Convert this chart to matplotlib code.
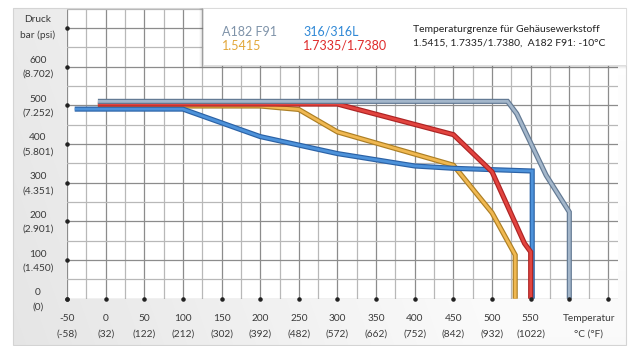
import numpy as np
import matplotlib
matplotlib.use("Agg")
import matplotlib.pyplot as plt
from matplotlib.patches import Rectangle

plt.rcParams['font.family'] = ['Lato', 'DejaVu Sans']

# ---- data ----
a182_t = [-10, 520, 532, 570, 600, 600]
a182_p = [510, 510, 478, 319, 224, 0]

red_t = [-10, 300, 450, 500, 542, 550, 550]
red_p = [503, 503, 424, 328, 143, 121, 0]

orange_t = [-10, 200, 250, 300, 450, 500, 530, 530]
orange_p = [498, 498, 489, 431, 345, 222, 113, 0]

blue_t = [-40, 100, 200, 300, 400, 450, 552, 552]
blue_p = [490, 490, 419, 375, 343, 337, 330, 0]

x_ticks = [-50, 0, 50, 100, 150, 200, 250, 300, 350, 400, 450, 500, 550]
x_ticks_f = ["(-58)", "(32)", "(122)", "(212)", "(302)", "(392)", "(482)",
             "(572)", "(662)", "(752)", "(842)", "(932)", "(1022)"]
y_ticks = [0, 100, 200, 300, 400, 500, 600]
y_ticks_psi = ["(0)", "(1.450)", "(2.901)", "(4.351)", "(5.801)", "(7.252)", "(8.702)"]

W, H = 628, 346
fig = plt.figure(figsize=(W / 100, H / 100), dpi=100)
fig.patch.set_facecolor('white')

# background frame with gradient
bg = fig.add_axes([0, 0, 1, 1], zorder=-5)
bg.set_xlim(0, W)
bg.set_ylim(H, 0)
bg.axis('off')
gx = np.linspace(0, 1, 200)
gy = np.linspace(0, 1, 100)
GX, GY = np.meshgrid(gx, gy)
val = 0.90 + 0.08 * np.clip(GX * 1.3, 0, 1) + 0.02 * (1 - GY)
val = np.clip(val, 0, 1)
img = np.dstack([val, val, val])
bg.imshow(img, extent=(13, 626, 345, 8), aspect='auto', interpolation='bilinear')
bg.add_patch(Rectangle((13, 8), 613, 337, fill=False, ec='#d4d4d4', lw=0.8))

# main axes
x0_px, x1_px = 67, 618
y_top_px, y_bot_px = 8.5, 298.7
ax = fig.add_axes([x0_px / W, 1 - y_bot_px / H, (x1_px - x0_px) / W, (y_bot_px - y_top_px) / H])
ax.set_facecolor('white')
ax.set_xlim(-50, 663)
ax.set_ylim(0, 750)

for xv in np.arange(-50, 663, 25):
    major = (xv % 50 == 0)
    ax.axvline(xv, color='#8c8c8c' if major else '#b8b8b8', lw=0.9, zorder=1)
for yv in np.arange(0, 751, 50):
    major = (yv % 100 == 0)
    ax.axhline(yv, color='#8c8c8c' if major else '#b8b8b8', lw=0.9, zorder=1)

for s in ax.spines.values():
    s.set_visible(False)
ax.set_xticks([])
ax.set_yticks([])

series = [
    (orange_t, orange_p, '#ad7f24', '#f0b851'),
    (blue_t, blue_p, '#2b62a6', '#4d92da'),
    (red_t, red_p, '#ad2424', '#e2443f'),
    (a182_t, a182_p, '#627993', '#a3b6ca'),
]
z = 3
for t, p, dark, light in series:
    ax.plot(t, p, color=dark, lw=3.7, solid_joinstyle='miter', solid_capstyle='butt', zorder=z)
    ax.plot(t, p, color=light, lw=2.0, solid_joinstyle='miter', solid_capstyle='butt', zorder=z + 0.5)
    z += 1

# tick dots
dot_x = np.arange(-50, 651, 50)
ax.scatter(dot_x, np.zeros_like(dot_x), s=5, color='#222222', zorder=10, clip_on=False)
dot_y = np.arange(0, 701, 100)
ax.scatter(np.full_like(dot_y, -50), dot_y, s=5, color='#222222', zorder=10, clip_on=False)

lab_col = '#3a3a3a'
fs = 7.3
for xv, fl in zip(x_ticks, x_ticks_f):
    ax.annotate(str(xv), xy=(xv, 0), xytext=(0, -19.6), textcoords='offset pixels',
                ha='center', va='center', fontsize=fs, color=lab_col, annotation_clip=False)
    ax.annotate(fl, xy=(xv, 0), xytext=(0, -35.3), textcoords='offset pixels',
                ha='center', va='center', fontsize=fs, color=lab_col, annotation_clip=False)
ax.annotate("Temperatur", xy=(625, 0), xytext=(0, -19.6), textcoords='offset pixels',
            ha='center', va='center', fontsize=fs, color=lab_col, annotation_clip=False)
ax.annotate("°C (°F)", xy=(625, 0), xytext=(0, -35.3), textcoords='offset pixels',
            ha='center', va='center', fontsize=fs, color=lab_col, annotation_clip=False)

for yv, pl in zip(y_ticks, y_ticks_psi):
    ax.annotate(str(yv), xy=(-50, yv), xytext=(-29, 6), textcoords='offset pixels',
                ha='center', va='center', fontsize=fs, color=lab_col, annotation_clip=False)
    ax.annotate(pl, xy=(-50, yv), xytext=(-29, -8), textcoords='offset pixels',
                ha='center', va='center', fontsize=fs, color=lab_col, annotation_clip=False)
ax.annotate("Druck", xy=(-50, 700), xytext=(-29, 8), textcoords='offset pixels',
            ha='center', va='center', fontsize=fs, color=lab_col, annotation_clip=False)
ax.annotate("bar (psi)", xy=(-50, 700), xytext=(-29, -7), textcoords='offset pixels',
            ha='center', va='center', fontsize=fs, color=lab_col, annotation_clip=False)

# legend box with shadow
def fx(px):
    return px / W

def fy(py):
    return 1 - py / H

for i, a in enumerate([0.05, 0.04, 0.03, 0.02]):
    off = i + 1
    fig.patches.append(Rectangle((fx(203 - off), fy(65 + off)), fx(626 - 203 + off), (57 + off) / H,
                                 transform=fig.transFigure, facecolor='black', alpha=a,
                                 edgecolor='none', zorder=1))
fig.patches.append(Rectangle((fx(203), fy(65)), fx(626 - 203), 57 / H,
                             transform=fig.transFigure, facecolor='white',
                             edgecolor='#dcdcdc', lw=0.6, zorder=2))

lfs = 9
fig.text(fx(221.5), fy(31.7), "A182 F91", color='#7f93a9', fontsize=lfs, ha='left', va='center', zorder=5)
fig.text(fx(221.5), fy(45.5), "1.5415", color='#e2a73a', fontsize=lfs, ha='left', va='center', zorder=5)
fig.text(fx(303), fy(31.7), "316/316L", color='#2f88d6', fontsize=lfs, ha='left', va='center', zorder=5)
fig.text(fx(303), fy(45.5), "1.7335/1.7380", color='#df2a2a', fontsize=lfs, ha='left', va='center', zorder=5)
fig.text(fx(413), fy(30), "Temperaturgrenze für Gehäusewerkstoff", color='#222222', fontsize=7.5,
         ha='left', va='center', zorder=5)
fig.text(fx(413), fy(43), "1.5415, 1.7335/1.7380,  A182 F91: -10°C", color='#222222', fontsize=7.5,
         ha='left', va='center', zorder=5)

fig.savefig("out.png", dpi=100)
